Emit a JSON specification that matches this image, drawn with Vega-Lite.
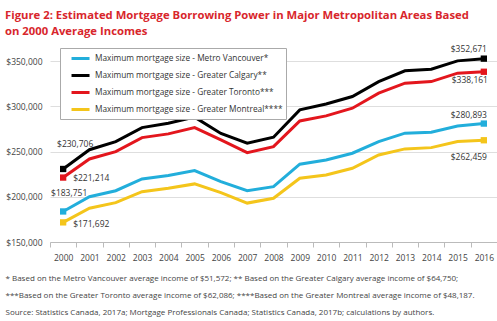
{
  "$schema": "https://vega.github.io/schema/vega-lite/v6.json",
  "width": 447,
  "height": 190,
  "autosize": {"type": "none"},
  "padding": {"left": 50, "top": 52, "right": 0, "bottom": 79},
  "background": "white",
  "config": {
    "font": "Open Sans",
    "view": {"stroke": null},
    "axis": {"labelColor": "#444", "labelFont": "Open Sans", "labelFontSize": 8.5}
  },
  "title": {
    "text": ["Figure 2: Estimated Mortgage Borrowing Power in Major Metropolitan Areas Based", "on 2000 Average Incomes"],
    "anchor": "start",
    "frame": "group",
    "dx": -45,
    "offset": 7,
    "fontSize": 11.3,
    "fontWeight": "bold",
    "font": "Open Sans",
    "color": "#d8262c",
    "lineHeight": 16
  },
  "data": {
    "values": [
      {"year": "2000", "series": "Maximum mortgage size - Metro Vancouver*", "value": 183751},
      {"year": "2001", "series": "Maximum mortgage size - Metro Vancouver*", "value": 200100},
      {"year": "2002", "series": "Maximum mortgage size - Metro Vancouver*", "value": 206700},
      {"year": "2003", "series": "Maximum mortgage size - Metro Vancouver*", "value": 219700},
      {"year": "2004", "series": "Maximum mortgage size - Metro Vancouver*", "value": 223400},
      {"year": "2005", "series": "Maximum mortgage size - Metro Vancouver*", "value": 228900},
      {"year": "2006", "series": "Maximum mortgage size - Metro Vancouver*", "value": 216800},
      {"year": "2007", "series": "Maximum mortgage size - Metro Vancouver*", "value": 206700},
      {"year": "2008", "series": "Maximum mortgage size - Metro Vancouver*", "value": 211200},
      {"year": "2009", "series": "Maximum mortgage size - Metro Vancouver*", "value": 236000},
      {"year": "2010", "series": "Maximum mortgage size - Metro Vancouver*", "value": 240700},
      {"year": "2011", "series": "Maximum mortgage size - Metro Vancouver*", "value": 248100},
      {"year": "2012", "series": "Maximum mortgage size - Metro Vancouver*", "value": 261000},
      {"year": "2013", "series": "Maximum mortgage size - Metro Vancouver*", "value": 270300},
      {"year": "2014", "series": "Maximum mortgage size - Metro Vancouver*", "value": 271400},
      {"year": "2015", "series": "Maximum mortgage size - Metro Vancouver*", "value": 278300},
      {"year": "2016", "series": "Maximum mortgage size - Metro Vancouver*", "value": 280893},
      {"year": "2000", "series": "Maximum mortgage size - Greater Calgary**", "value": 230706},
      {"year": "2001", "series": "Maximum mortgage size - Greater Calgary**", "value": 252000},
      {"year": "2002", "series": "Maximum mortgage size - Greater Calgary**", "value": 261000},
      {"year": "2003", "series": "Maximum mortgage size - Greater Calgary**", "value": 276400},
      {"year": "2004", "series": "Maximum mortgage size - Greater Calgary**", "value": 281300},
      {"year": "2005", "series": "Maximum mortgage size - Greater Calgary**", "value": 288000},
      {"year": "2006", "series": "Maximum mortgage size - Greater Calgary**", "value": 270000},
      {"year": "2007", "series": "Maximum mortgage size - Greater Calgary**", "value": 259200},
      {"year": "2008", "series": "Maximum mortgage size - Greater Calgary**", "value": 265800},
      {"year": "2009", "series": "Maximum mortgage size - Greater Calgary**", "value": 296000},
      {"year": "2010", "series": "Maximum mortgage size - Greater Calgary**", "value": 302500},
      {"year": "2011", "series": "Maximum mortgage size - Greater Calgary**", "value": 310800},
      {"year": "2012", "series": "Maximum mortgage size - Greater Calgary**", "value": 327300},
      {"year": "2013", "series": "Maximum mortgage size - Greater Calgary**", "value": 339200},
      {"year": "2014", "series": "Maximum mortgage size - Greater Calgary**", "value": 341000},
      {"year": "2015", "series": "Maximum mortgage size - Greater Calgary**", "value": 350200},
      {"year": "2016", "series": "Maximum mortgage size - Greater Calgary**", "value": 352671},
      {"year": "2000", "series": "Maximum mortgage size - Greater Toronto***", "value": 221214},
      {"year": "2001", "series": "Maximum mortgage size - Greater Toronto***", "value": 241800},
      {"year": "2002", "series": "Maximum mortgage size - Greater Toronto***", "value": 249900},
      {"year": "2003", "series": "Maximum mortgage size - Greater Toronto***", "value": 265400},
      {"year": "2004", "series": "Maximum mortgage size - Greater Toronto***", "value": 269500},
      {"year": "2005", "series": "Maximum mortgage size - Greater Toronto***", "value": 276400},
      {"year": "2006", "series": "Maximum mortgage size - Greater Toronto***", "value": 262800},
      {"year": "2007", "series": "Maximum mortgage size - Greater Toronto***", "value": 248800},
      {"year": "2008", "series": "Maximum mortgage size - Greater Toronto***", "value": 255400},
      {"year": "2009", "series": "Maximum mortgage size - Greater Toronto***", "value": 283800},
      {"year": "2010", "series": "Maximum mortgage size - Greater Toronto***", "value": 289400},
      {"year": "2011", "series": "Maximum mortgage size - Greater Toronto***", "value": 297900},
      {"year": "2012", "series": "Maximum mortgage size - Greater Toronto***", "value": 314500},
      {"year": "2013", "series": "Maximum mortgage size - Greater Toronto***", "value": 325500},
      {"year": "2014", "series": "Maximum mortgage size - Greater Toronto***", "value": 327300},
      {"year": "2015", "series": "Maximum mortgage size - Greater Toronto***", "value": 336600},
      {"year": "2016", "series": "Maximum mortgage size - Greater Toronto***", "value": 338161},
      {"year": "2000", "series": "Maximum mortgage size - Greater Montreal****", "value": 171692},
      {"year": "2001", "series": "Maximum mortgage size - Greater Montreal****", "value": 187300},
      {"year": "2002", "series": "Maximum mortgage size - Greater Montreal****", "value": 193500},
      {"year": "2003", "series": "Maximum mortgage size - Greater Montreal****", "value": 205600},
      {"year": "2004", "series": "Maximum mortgage size - Greater Montreal****", "value": 209400},
      {"year": "2005", "series": "Maximum mortgage size - Greater Montreal****", "value": 214200},
      {"year": "2006", "series": "Maximum mortgage size - Greater Montreal****", "value": 204500},
      {"year": "2007", "series": "Maximum mortgage size - Greater Montreal****", "value": 193000},
      {"year": "2008", "series": "Maximum mortgage size - Greater Montreal****", "value": 198300},
      {"year": "2009", "series": "Maximum mortgage size - Greater Montreal****", "value": 220400},
      {"year": "2010", "series": "Maximum mortgage size - Greater Montreal****", "value": 224100},
      {"year": "2011", "series": "Maximum mortgage size - Greater Montreal****", "value": 231500},
      {"year": "2012", "series": "Maximum mortgage size - Greater Montreal****", "value": 246200},
      {"year": "2013", "series": "Maximum mortgage size - Greater Montreal****", "value": 252900},
      {"year": "2014", "series": "Maximum mortgage size - Greater Montreal****", "value": 254300},
      {"year": "2015", "series": "Maximum mortgage size - Greater Montreal****", "value": 261000},
      {"year": "2016", "series": "Maximum mortgage size - Greater Montreal****", "value": 262459}
    ]
  },
  "encoding": {
    "x": {
      "field": "year",
      "type": "ordinal",
      "bandPosition": 0.5,
      "scale": {"type": "band", "paddingInner": 0, "paddingOuter": 0},
      "axis": {
        "labelAngle": 0,
        "labelPadding": 6,
        "tickBand": "extent",
        "tickColor": "#bbb",
        "tickSize": 5,
        "domainColor": "#bbb",
        "grid": false,
        "title": [
          "* Based on the Metro Vancouver average income of $51,572; ** Based on the Greater Calgary average income of $64,750;",
          "***Based on the Greater Toronto average income of $62,086;  ****Based on the Greater Montreal average income of $48,187.",
          "Source: Statistics Canada, 2017a; Mortgage Professionals Canada; Statistics Canada, 2017b; calculations by authors."
        ],
        "titleFont": "Open Sans",
        "titleFontSize": 8,
        "titleFontWeight": "normal",
        "titleColor": "#444",
        "titleAnchor": "start",
        "titleAlign": "left",
        "titleBaseline": "top",
        "titleX": -45,
        "titleY": 32,
        "titleLineHeight": 17
      }
    },
    "y": {
      "field": "value",
      "type": "quantitative",
      "scale": {"domain": [150000, 360000], "nice": false, "zero": false},
      "axis": {
        "values": [150000, 200000, 250000, 300000, 350000],
        "format": "$,.0f",
        "title": null,
        "domain": false,
        "ticks": false,
        "labelPadding": 8,
        "gridColor": "#dedede",
        "gridWidth": 1
      }
    },
    "color": {
      "field": "series",
      "type": "nominal",
      "sort": null,
      "scale": {
        "domain": [
          "Maximum mortgage size - Metro Vancouver*",
          "Maximum mortgage size - Greater Calgary**",
          "Maximum mortgage size - Greater Toronto***",
          "Maximum mortgage size - Greater Montreal****"
        ],
        "range": ["#22aedb", "#000000", "#e3161d", "#f4c51b"]
      },
      "legend": {
        "title": null,
        "orient": "none",
        "legendX": 10,
        "legendY": -4,
        "fillColor": "white",
        "strokeColor": "#aaa",
        "padding": 3,
        "rowPadding": 3,
        "symbolType": "M0.17,0H3.17",
        "symbolStrokeWidth": 3,
        "symbolSize": 144,
        "symbolFillColor": "transparent",
        "labelFont": "Open Sans",
        "labelFontSize": 8.3,
        "labelColor": "#333",
        "labelLimit": 400,
        "labelOffset": 17
      }
    }
  },
  "layer": [
    {"mark": {"type": "line", "strokeWidth": 3}},
    {
      "transform": [{"filter": "datum.year == '2000' || datum.year == '2016'"}],
      "mark": {"type": "square", "size": 40, "opacity": 1, "filled": true}
    },
    {
      "transform": [{"filter": "datum.year == '2000' && datum.series == 'Maximum mortgage size - Greater Calgary**'"}],
      "mark": {"type": "text", "dx": 12, "dy": -25, "fontSize": 8.5, "font": "Open Sans"},
      "encoding": {"text": {"field": "value", "format": "$,"}, "color": {"value": "#333"}}
    },
    {
      "transform": [{"filter": "datum.year == '2000' && datum.series == 'Maximum mortgage size - Greater Toronto***'"}],
      "mark": {"type": "text", "align": "left", "dx": 10, "dy": 0, "fontSize": 8.5, "font": "Open Sans"},
      "encoding": {"text": {"field": "value", "format": "$,"}, "color": {"value": "#333"}}
    },
    {
      "transform": [{"filter": "datum.year == '2000' && datum.series == 'Maximum mortgage size - Metro Vancouver*'"}],
      "mark": {"type": "text", "dx": 6, "dy": -18, "fontSize": 8.5, "font": "Open Sans"},
      "encoding": {"text": {"field": "value", "format": "$,"}, "color": {"value": "#333"}}
    },
    {
      "transform": [{"filter": "datum.year == '2000' && datum.series == 'Maximum mortgage size - Greater Montreal****'"}],
      "mark": {"type": "text", "align": "left", "dx": 10, "dy": 2, "fontSize": 8.5, "font": "Open Sans"},
      "encoding": {"text": {"field": "value", "format": "$,"}, "color": {"value": "#333"}}
    },
    {
      "transform": [{"filter": "datum.year == '2016' && datum.series == 'Maximum mortgage size - Greater Calgary**'"}],
      "mark": {"type": "text", "dx": -15, "dy": -10, "fontSize": 8.5, "font": "Open Sans"},
      "encoding": {"text": {"field": "value", "format": "$,"}, "color": {"value": "#333"}}
    },
    {
      "transform": [{"filter": "datum.year == '2016' && datum.series == 'Maximum mortgage size - Greater Toronto***'"}],
      "mark": {"type": "text", "dx": -14, "dy": 8, "fontSize": 8.5, "font": "Open Sans"},
      "encoding": {"text": {"field": "value", "format": "$,"}, "color": {"value": "#333"}}
    },
    {
      "transform": [{"filter": "datum.year == '2016' && datum.series == 'Maximum mortgage size - Metro Vancouver*'"}],
      "mark": {"type": "text", "dx": -15, "dy": -9, "fontSize": 8.5, "font": "Open Sans"},
      "encoding": {"text": {"field": "value", "format": "$,"}, "color": {"value": "#333"}}
    },
    {
      "transform": [{"filter": "datum.year == '2016' && datum.series == 'Maximum mortgage size - Greater Montreal****'"}],
      "mark": {"type": "text", "dx": -15, "dy": 17, "fontSize": 8.5, "font": "Open Sans"},
      "encoding": {"text": {"field": "value", "format": "$,"}, "color": {"value": "#333"}}
    }
  ]
}
